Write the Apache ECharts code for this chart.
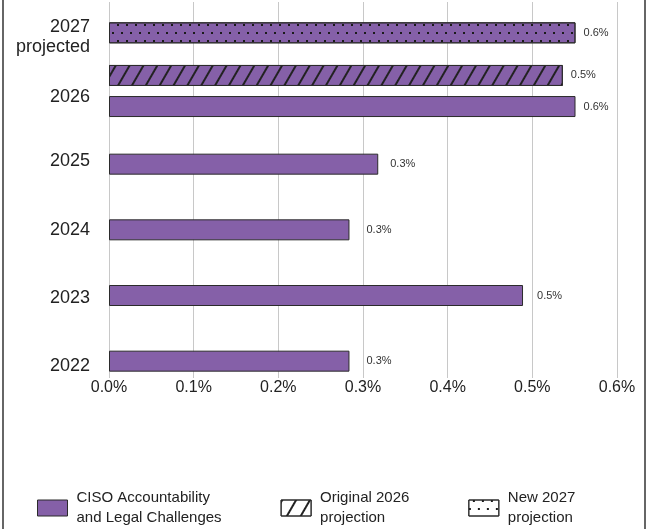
<!DOCTYPE html>
<html>
<head>
<meta charset="utf-8">
<script src="https://cdn.jsdelivr.net/npm/echarts@6/dist/echarts.min.js"></script>
<style>html,body{margin:0;padding:0;background:#fff;}#c{width:652px;height:529px;}</style>
</head>
<body>
<div id="c"></div>
<script>
// Data (values in %)
var categories = ['2022', '2023', '2024', '2025', '2026', '2027\nprojected'];
var cisoValues = [0.284, 0.489, 0.284, 0.318, null, null];
var ciso2026 = [null, null, null, null, 0.551, null];
var original2026 = [null, null, null, null, 0.536, null];
var new2027 = [null, null, null, null, null, 0.551];
var xTicks = [0, 0.1, 0.2, 0.3, 0.4, 0.5, 0.6];
var seriesNames = ['CISO Accountability\nand Legal Challenges', 'Original 2026\nprojection', 'New 2027\nprojection'];

var PURPLE = '#8560a8';
var EDGE = '#2b2b2b';
var FONT = '"Liberation Sans", Arial, sans-serif';

// style only: vertical nudge padding of single-line category labels
var labelPads = [10, 6, 0, -6, -2, 0];
// style only: gap between each bar end and its value label
var labelGaps = [17, 14, 17, 12, 8, 8];

var rich = {
  T: { fontFamily: FONT, fontSize: 18, color: '#222', lineHeight: 28, align: 'right' },
  B: { fontFamily: FONT, fontSize: 18, color: '#222', lineHeight: 12, align: 'right' }
};
labelPads.forEach(function (s, i) {
  rich['L' + i] = {
    fontFamily: FONT, fontSize: 18, color: '#222', lineHeight: 22, align: 'right',
    padding: s >= 0 ? [s, 0, 0, 0] : [0, 0, -s, 0]
  };
});
function catLabel(v, i) {
  var lines = String(v).split('\n');
  if (lines.length > 1) return '{T|' + lines[0] + '}\n{B|' + lines[1] + '}';
  return '{L' + i + '|' + v + '}';
}

function withGaps(arr) {
  return arr.map(function (v, i) {
    return v == null ? null : { value: v, label: { distance: labelGaps[i] } };
  });
}

var hatchDecal = { symbol: 'rect', symbolSize: 1, color: '#222', dashArrayX: [1, 0], dashArrayY: [1.6, 9.4], rotation: -Math.PI / 3 };
var dotDecal = { symbol: 'rect', symbolSize: 1, color: '#1a1a1a', dashArrayX: [[1.8, 6.2], [0, 4, 1.8, 2.2]], dashArrayY: [1.8, 5.4], rotation: 0 };

var valueLabel = {
  show: true, position: 'right', distance: 10,
  fontFamily: FONT, fontSize: 11, color: '#333',
  formatter: function (p) { return p.value.toFixed(1) + '%'; }
};

var fmtPct = function (v) { return v.toFixed(1) + '%'; };

var chart = echarts.init(document.getElementById('c'), null, { renderer: 'canvas' });
chart.setOption({
  animation: false,
  backgroundColor: '#fff',
  textStyle: { fontFamily: FONT },
  grid: [
    { left: 109, right: 35, top: 2, bottom: 151 },
    { left: 109, right: 35, top: 0, bottom: 135 },
    { left: 109, right: 35, top: 0, bottom: 165 }
  ],
  xAxis: [
    {
      gridIndex: 0, type: 'value', min: xTicks[0], max: xTicks[xTicks.length - 1], interval: 0.1,
      axisLine: { show: false }, axisTick: { show: false },
      splitLine: { show: true, lineStyle: { color: '#c8c8c8', width: 1 } },
      axisLabel: { margin: 2, fontFamily: FONT, fontSize: 16, color: '#222', formatter: fmtPct }
    },
    { gridIndex: 1, type: 'value', min: xTicks[0], max: xTicks[xTicks.length - 1], show: false, splitLine: { show: false } },
    { gridIndex: 2, type: 'value', min: xTicks[0], max: xTicks[xTicks.length - 1], show: false, splitLine: { show: false } }
  ],
  yAxis: [
    { gridIndex: 0, type: 'category', data: categories, show: false },
    {
      gridIndex: 1, type: 'category', data: categories,
      axisLine: { show: false }, axisTick: { show: false }, splitLine: { show: false },
      axisLabel: { margin: 19, fontFamily: FONT, fontSize: 18, color: '#222', align: 'right', formatter: catLabel, rich: rich }
    },
    { gridIndex: 2, type: 'category', data: categories, show: false }
  ],
  legend: {
    left: 32, top: 483, itemWidth: 30, itemHeight: 16, itemGap: 59,
    icon: 'rect',
    textStyle: { fontFamily: FONT, fontSize: 15, color: '#222', lineHeight: 20, padding: [0, 0, 0, 4] },
    data: [
      { name: seriesNames[0], itemStyle: { color: PURPLE, borderColor: EDGE, borderWidth: 1 } },
      { name: seriesNames[1], itemStyle: { color: '#fff', borderColor: EDGE, borderWidth: 1 } },
      { name: seriesNames[2], itemStyle: { color: '#fff', borderColor: EDGE, borderWidth: 1 } }
    ]
  },
  series: [
    {
      name: seriesNames[0], type: 'bar', xAxisIndex: 1, yAxisIndex: 1,
      data: withGaps(cisoValues), barWidth: 21, barGap: '-100%',
      itemStyle: { color: PURPLE, borderColor: EDGE, borderWidth: 1 },
      label: valueLabel
    },
    {
      name: seriesNames[2], type: 'bar', xAxisIndex: 1, yAxisIndex: 1,
      data: withGaps(new2027), barWidth: 21, barGap: '-100%',
      itemStyle: { color: PURPLE, borderColor: EDGE, borderWidth: 1, decal: dotDecal },
      label: valueLabel
    },
    {
      name: seriesNames[1], type: 'bar', xAxisIndex: 2, yAxisIndex: 2,
      data: withGaps(original2026), barWidth: 21, barGap: '48%',
      itemStyle: { color: PURPLE, borderColor: EDGE, borderWidth: 1, decal: hatchDecal },
      label: valueLabel
    },
    {
      name: seriesNames[0], type: 'bar', xAxisIndex: 2, yAxisIndex: 2,
      data: withGaps(ciso2026), barWidth: 21, barGap: '48%',
      itemStyle: { color: PURPLE, borderColor: EDGE, borderWidth: 1 },
      label: valueLabel
    }
  ],
  graphic: [
    { type: 'line', shape: { x1: 3, y1: 0, x2: 3, y2: 529 }, style: { stroke: '#333', lineWidth: 1.5 } },
    { type: 'line', shape: { x1: 645, y1: 0, x2: 645, y2: 529 }, style: { stroke: '#333', lineWidth: 1.5 } }
  ]
});
</script>
</body>
</html>
